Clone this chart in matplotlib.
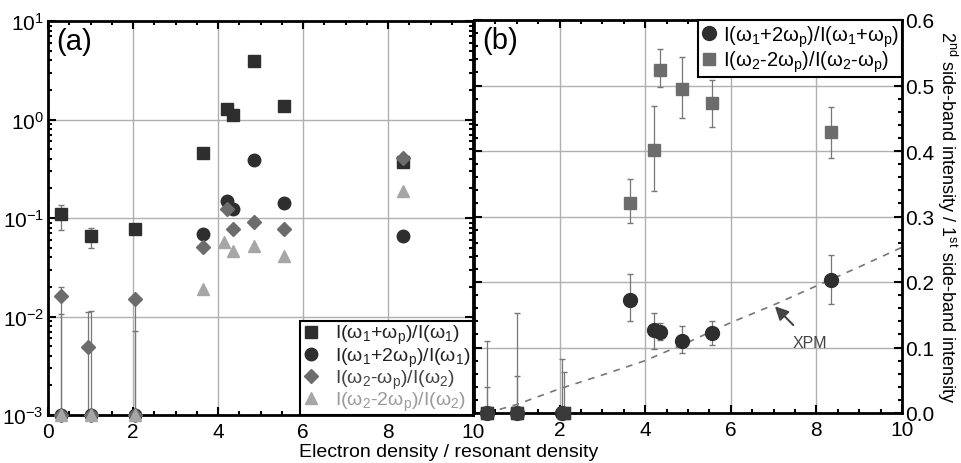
import numpy as np
import matplotlib
matplotlib.use('Agg')
import matplotlib.pyplot as plt
from matplotlib.ticker import MultipleLocator, LogLocator, NullFormatter, FixedLocator

plt.rcParams['font.family'] = ['Liberation Sans', 'DejaVu Sans']
plt.rcParams['mathtext.fontset'] = 'custom'
plt.rcParams['mathtext.rm'] = 'Liberation Sans'
plt.rcParams['mathtext.it'] = 'Liberation Sans'
plt.rcParams['mathtext.default'] = 'regular'

# ---- panel (a) data (log scale); zero values sit on the axis at 1e-3 ----
sq_x = [0.3, 1.0, 2.05, 3.65, 4.2, 4.35, 4.85, 5.55, 8.35]
sq_y = [0.11, 0.066, 0.078, 0.458, 1.29, 1.12, 3.93, 1.36, 0.374]
sq_lo = [0.075, 0.05, 0.078, 0.458, 1.29, 1.12, 3.93, 1.36, 0.374]
sq_hi = [0.135, 0.08, 0.078, 0.458, 1.29, 1.12, 3.93, 1.36, 0.374]

ci_x = [0.3, 1.0, 2.05, 3.65, 4.2, 4.35, 4.85, 5.55, 8.35]
ci_y = [1e-3, 1e-3, 1e-3, 0.069, 0.149, 0.124, 0.386, 0.142, 0.066]
ci_hi = [0.0105, 0.0115, 0.0072, 0.069, 0.149, 0.124, 0.386, 0.142, 0.066]

di_x = [0.3, 0.95, 2.05, 3.65, 4.2, 4.35, 4.85, 5.55, 8.35]
di_y = [0.016, 0.0049, 0.0149, 0.051, 0.122, 0.078, 0.092, 0.078, 0.41]
di_lo = [1e-3, 1e-3, 1e-3, 0.051, 0.122, 0.078, 0.092, 0.078, 0.41]
di_hi = [0.02, 0.011, 0.0149, 0.051, 0.122, 0.078, 0.092, 0.078, 0.41]
di_zero_x = [0.3, 1.0, 2.05]

tr_x = [0.3, 1.0, 2.05, 3.65, 4.15, 4.35, 4.85, 5.55, 8.35]
tr_y = [1e-3, 1e-3, 1e-3, 0.019, 0.057, 0.046, 0.052, 0.041, 0.19]

# ---- panel (b) data (linear) ----
bc_x = [0.3, 1.0, 2.05, 3.65, 4.2, 4.35, 4.85, 5.55, 8.35]
bc_y = [0.0, 0.0, 0.0, 0.172, 0.127, 0.123, 0.110, 0.122, 0.203]
bc_lo = [0.0, 0.0, 0.0, 0.140, 0.098, 0.112, 0.091, 0.104, 0.167]
bc_hi = [0.11, 0.153, 0.083, 0.212, 0.152, 0.138, 0.133, 0.141, 0.241]

bs_x = [0.3, 1.0, 2.1, 3.65, 4.2, 4.35, 4.85, 5.55, 8.35]
bs_y = [0.0, 0.0, 0.0, 0.32, 0.401, 0.524, 0.495, 0.474, 0.429]
bs_lo = [0.0, 0.0, 0.0, 0.29, 0.339, 0.498, 0.451, 0.436, 0.39]
bs_hi = [0.04, 0.056, 0.062, 0.357, 0.468, 0.556, 0.543, 0.508, 0.467]

xpm_x = [0.3, 1.0, 2.0, 3.0, 4.0, 5.0, 6.0, 7.0, 8.0, 9.0, 10.0]
xpm_y = [0.0, 0.013, 0.037, 0.058, 0.08, 0.108, 0.138, 0.165, 0.194, 0.223, 0.253]

lab_a = ['I(ω$_1$+ω$_p$)/I(ω$_1$)',
         'I(ω$_1$+2ω$_p$)/I(ω$_1$)',
         'I(ω$_2$-ω$_p$)/I(ω$_2$)',
         'I(ω$_2$-2ω$_p$)/I(ω$_2$)']
lab_b = ['I(ω$_1$+2ω$_p$)/I(ω$_1$+ω$_p$)',
         'I(ω$_2$-2ω$_p$)/I(ω$_2$-ω$_p$)']

dark = '#2e2e2e'
mid = '#6c6c6c'
light = '#a6a6a6'
ebc = '#777777'


def errs(y, lo, hi):
    y = np.array(y)
    return [np.clip(y - np.array(lo), 0, None), np.clip(np.array(hi) - y, 0, None)]


fig = plt.figure(figsize=(9.61, 4.64), dpi=100)
ax1 = fig.add_axes([48/961, 48/464, 425/961, 394/464])
ax2 = fig.add_axes([474/961, 50/464, 428/961, 393/464])

ms = 9
# panel (a)
ax1.errorbar(di_x, di_y, yerr=errs(di_y, di_lo, di_hi),
             fmt='none', ecolor=ebc, elinewidth=0.9, capsize=2)
ax1.errorbar(ci_x, ci_y, yerr=errs(ci_y, ci_y, ci_hi),
             fmt='none', ecolor=ebc, elinewidth=0.9, capsize=2)
ax1.errorbar(sq_x, sq_y, yerr=errs(sq_y, sq_lo, sq_hi),
             fmt='none', ecolor=ebc, elinewidth=0.9, capsize=2)
h1, = ax1.plot(sq_x, sq_y, 's', color=dark, ms=ms, ls='none', clip_on=False, zorder=4)
h2, = ax1.plot(ci_x, ci_y, 'o', color=dark, ms=ms, ls='none', clip_on=False, zorder=4)
h3, = ax1.plot(di_x, di_y, 'D', color=mid, ms=ms-1.5, ls='none', clip_on=False, zorder=5)
ax1.plot(di_zero_x, [1e-3]*3, 'D', color=mid, ms=ms-1.5, ls='none', clip_on=False, zorder=5)
h4, = ax1.plot(tr_x, tr_y, '^', color=light, ms=ms, ls='none', clip_on=False, zorder=6)

ax1.set_yscale('log')
ax1.set_xlim(0, 10)
ax1.set_ylim(1e-3, 1e1)
ax1.xaxis.set_major_locator(MultipleLocator(2))
ax1.xaxis.set_minor_locator(MultipleLocator(0.5))
ax1.yaxis.set_major_locator(LogLocator(base=10, numticks=10))
ax1.yaxis.set_minor_locator(LogLocator(base=10, subs=np.arange(2, 10), numticks=10))
ax1.yaxis.set_minor_formatter(NullFormatter())
ax1.grid(True, which='major', color='#b0b0b0', lw=1)
ax1.tick_params(which='both', direction='in', top=True, right=True, labelsize=15, width=1.5)
ax1.tick_params(axis='y', which='major', length=6, pad=3)
ax1.tick_params(axis='x', which='major', length=6, pad=5)
ax1.tick_params(which='minor', length=3)
ax1.text(0.02, 0.985, '(a)', transform=ax1.transAxes, fontsize=21, va='top', ha='left')
leg1 = ax1.legend([h1, h2, h3, h4], lab_a, loc='lower right', fontsize=14,
                  frameon=True, fancybox=False, edgecolor='black', framealpha=1,
                  borderpad=0.1, labelspacing=-0.05, handletextpad=0.8,
                  handlelength=0.9, borderaxespad=0.0)
leg1.get_frame().set_linewidth(1.5)
for t, c in zip(leg1.get_texts(), ['#222222', '#222222', '#444444', '#9a9a9a']):
    t.set_color(c)

# panel (b)
ax2.plot(xpm_x, xpm_y, '--', color='#777777', lw=1.2, dashes=(4, 4), zorder=2)
ax2.errorbar(bc_x, bc_y, yerr=errs(bc_y, bc_lo, bc_hi),
             fmt='none', ecolor=ebc, elinewidth=0.9, capsize=2)
ax2.errorbar(bs_x, bs_y, yerr=errs(bs_y, bs_lo, bs_hi),
             fmt='none', ecolor=ebc, elinewidth=0.9, capsize=2)
g1, = ax2.plot(bc_x, bc_y, 'o', color=dark, ms=ms+1, ls='none', clip_on=False, zorder=4)
g2, = ax2.plot(bs_x, bs_y, 's', color=mid, ms=ms, ls='none', clip_on=False, zorder=5)
ax2.plot(bs_x[:3], bs_y[:3], 's', color='#3a3a3a', ms=ms, ls='none', clip_on=False, zorder=6)

ax2.set_xlim(0, 10)
ax2.set_ylim(0, 0.6)
ax2.xaxis.set_major_locator(FixedLocator([2, 4, 6, 8, 10]))
ax2.xaxis.set_minor_locator(MultipleLocator(0.5))
ax2.yaxis.set_major_locator(MultipleLocator(0.1))
ax2.yaxis.set_minor_locator(MultipleLocator(0.02))
ax2.yaxis.set_major_formatter(plt.FuncFormatter(lambda v, p: '%.1f' % v))
ax2.yaxis.tick_right()
ax2.grid(True, which='major', color='#b0b0b0', lw=1)
ax2.tick_params(which='both', direction='in', top=True, left=True, right=True,
                labelleft=False, labelright=True, labelsize=15, width=1.5)
ax2.tick_params(axis='y', which='major', length=6, pad=2)
ax2.tick_params(axis='x', which='major', length=6, pad=5)
ax2.tick_params(which='minor', length=3)
ax2.text(0.02, 0.985, '(b)', transform=ax2.transAxes, fontsize=21, va='top', ha='left')
ax2.yaxis.set_label_position('right')
ax2.set_ylabel(r'2$^{\mathrm{nd}}$ side-band intensity / 1$^{\mathrm{st}}$ side-band intensity',
               rotation=-90, fontsize=13, labelpad=18)
ax2.annotate('XPM', xy=(7.03, 0.163), xytext=(7.85, 0.108), fontsize=11.5, color='#444444',
             ha='center', va='center',
             arrowprops=dict(arrowstyle='-|>', color='#444444', lw=1.5, mutation_scale=20,
                             shrinkA=7, shrinkB=0))
leg2 = ax2.legend([g1, g2], lab_b, loc='upper right', fontsize=14.5,
                  frameon=True, fancybox=False, edgecolor='black', framealpha=1,
                  borderpad=0.15, labelspacing=0.0, handletextpad=0.3,
                  handlelength=0.8, borderaxespad=0.0)
leg2.get_frame().set_linewidth(1.5)

for ax in (ax1, ax2):
    for s in ax.spines.values():
        s.set_linewidth(2)

fig.text(0.467, 0.024, 'Electron density / resonant density', ha='center', va='center', fontsize=14)

fig.savefig('out.png', dpi=100)
